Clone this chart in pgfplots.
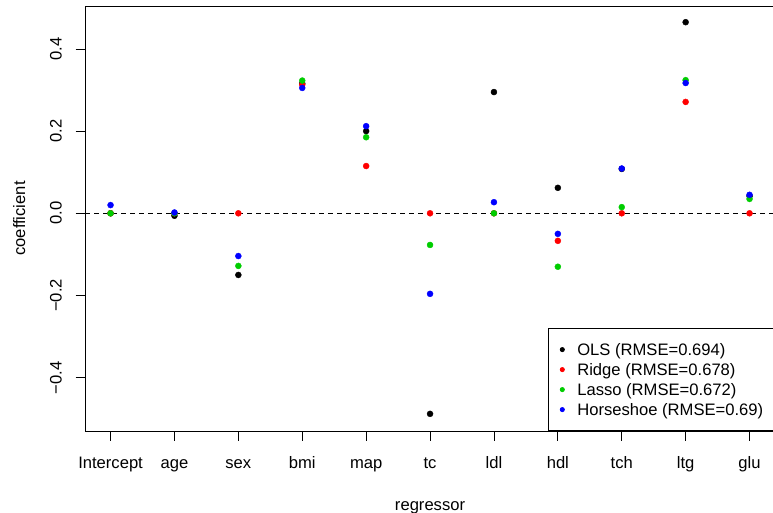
\documentclass[border=0pt]{standalone}
\usepackage{fontspec}
\setmainfont{Liberation Sans}
\usepackage{pgfplots}
\pgfplotsset{compat=1.18}
\definecolor{rgreen}{HTML}{00CD00}
\definecolor{rred}{HTML}{FF0000}
\definecolor{rblue}{HTML}{0000FF}
\begin{document}
\fontsize{16.6bp}{20bp}\selectfont
\begin{tikzpicture}
\begin{axis}[
  at={(85bp,82bp)}, anchor=south west,
  scale only axis, width=690.1bp, height=425bp,
  xmin=0.6, xmax=11.4, ymin=-0.5297, ymax=0.5044,
  axis line style={line width=0.8bp},
  tick align=outside, tick pos=left,
  major tick length=9.5bp,
  every tick/.style={black, line width=0.8bp},
  xtick={1,2,3,4,5,6,7,8,9,10,11},
  xticklabels={Intercept,age,sex,bmi,map,tc,ldl,hdl,tch,ltg,glu},
  ytick={-0.4,-0.2,0,0.2,0.4},
  yticklabels={−0.4,−0.2,0.0,0.2,0.4},
  xticklabel style={anchor=base, inner sep=0pt, yshift=-28.1bp},
  yticklabel style={rotate=90, anchor=base, inner sep=0pt, yshift=13.8bp},
  xlabel={regressor},
  ylabel={coefficient},
  xlabel style={at={(axis description cs:0.5,0)}, anchor=base, inner sep=0pt, yshift=-79bp},
  ylabel style={at={(axis description cs:0,0.5)}, rotate=0, anchor=base, inner sep=0pt, yshift=60bp},
  legend cell align=left,
  legend image code/.code={\fill (0bp,0bp) circle (2.1bp); \path[draw=none,fill=none] (-2.1bp,0bp) rectangle (15bp,0.1bp);},
  legend style={at={(1,0)}, anchor=south east, draw=black, line width=0.8bp,
    inner xsep=11.5bp, inner ysep=11bp, row sep=0pt,
    nodes={inner sep=0pt, text height=15.5bp, text depth=4.5bp}},
]
\addplot[black, dashed, line width=0.8bp, dash pattern=on 4.5bp off 4.5bp, forget plot] coordinates {(0.6,0) (11.4,0)};
\addplot[only marks, mark=*, mark size=3bp, color=black] coordinates {
(1,0) (2,-0.006) (3,-0.150) (4,0.316) (5,0.200) (6,-0.488) (7,0.295) (8,0.062) (9,0.108) (10,0.465) (11,0.042)};
\addlegendentry{OLS (RMSE=0.694)}
\addplot[only marks, mark=*, mark size=3bp, color=rred] coordinates {
(1,0) (2,0) (3,0) (4,0.313) (5,0.115) (6,0) (7,0) (8,-0.067) (9,0) (10,0.271) (11,0)};
\addlegendentry{Ridge (RMSE=0.678)}
\addplot[only marks, mark=*, mark size=3bp, color=rgreen] coordinates {
(1,0) (2,0) (3,-0.128) (4,0.323) (5,0.185) (6,-0.077) (7,0) (8,-0.130) (9,0.015) (10,0.324) (11,0.035)};
\addlegendentry{Lasso (RMSE=0.672)}
\addplot[only marks, mark=*, mark size=3bp, color=rblue] coordinates {
(1,0.020) (2,0.002) (3,-0.104) (4,0.305) (5,0.212) (6,-0.196) (7,0.027) (8,-0.050) (9,0.109) (10,0.317) (11,0.045)};
\addlegendentry{Horseshoe (RMSE=0.69)}
\end{axis}
\pgfresetboundingbox
\path[use as bounding box] (0,0) rectangle (773bp,513bp);
\end{tikzpicture}
\end{document}
